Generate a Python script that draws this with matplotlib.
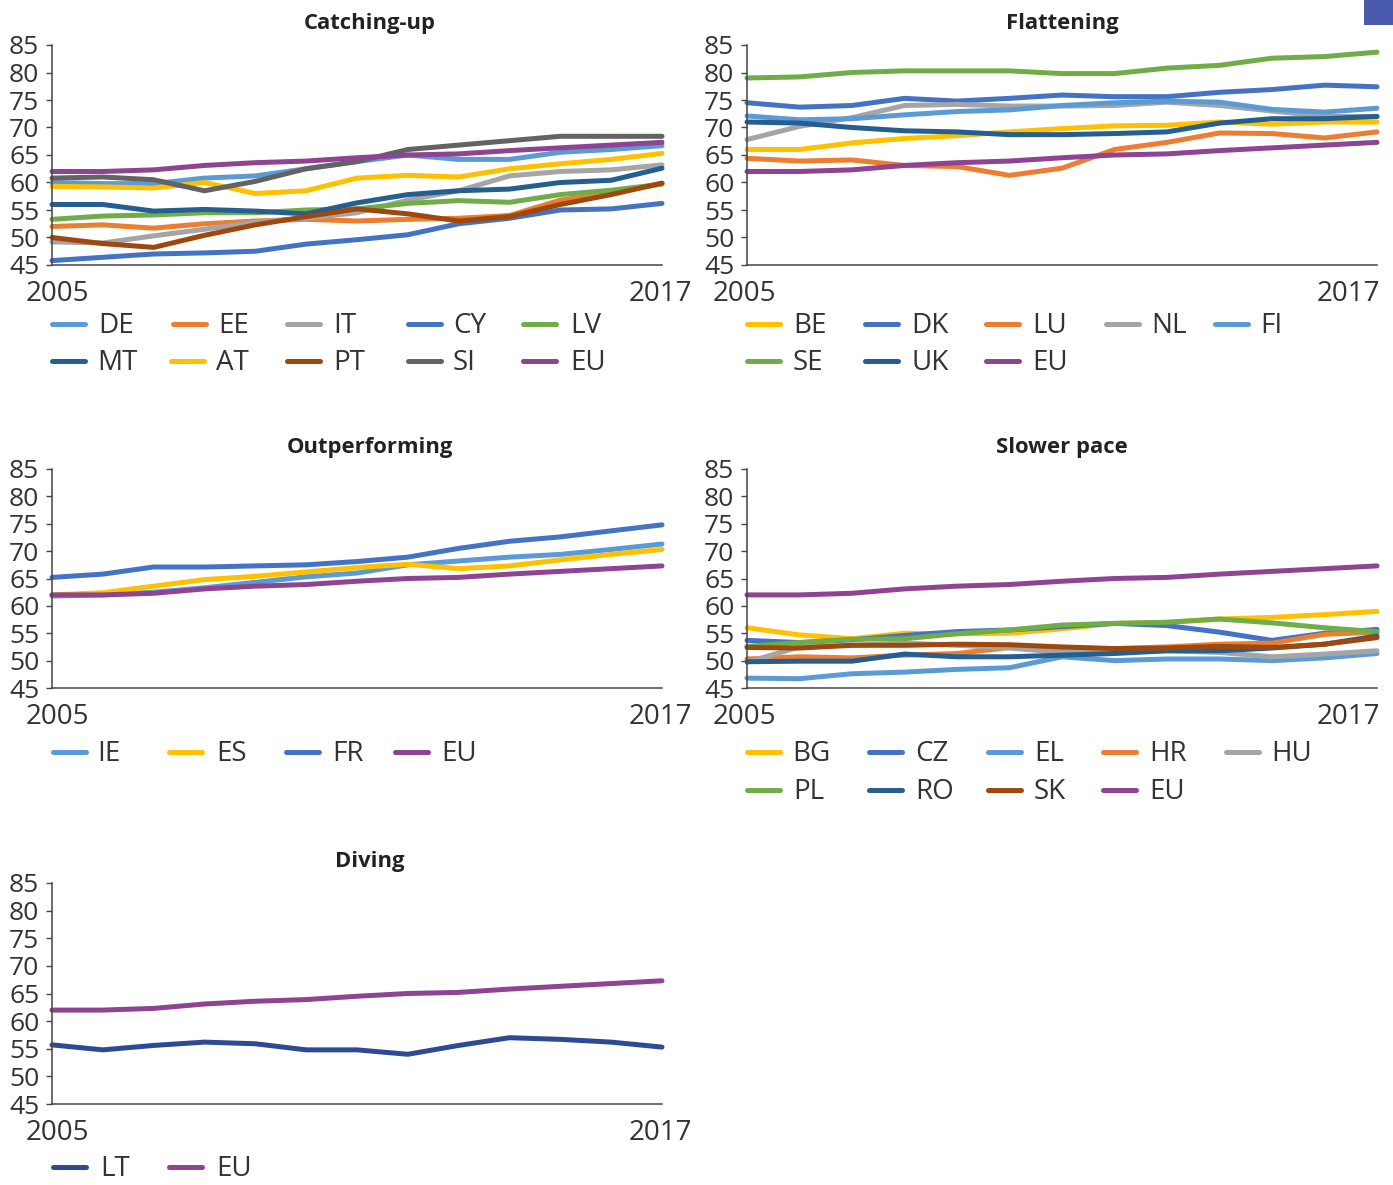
#!/usr/bin/env python3
import matplotlib as mp
mp.use('Agg')
import matplotlib.pyplot as plt
from matplotlib.lines import Line2D
from matplotlib.patches import Rectangle
from matplotlib.transforms import ScaledTranslation

W = 1393
H = 1185

plt.rcParams['font.family'] = ['Open Sans', 'Noto Sans', 'DejaVu Sans']

years = list(range(2005, 2018))
yticks = [45, 50, 55, 60, 65, 70, 75, 80, 85]

EU = [62, 62, 62.3, 63.1, 63.6, 63.9, 64.5, 65, 65.2, 65.8, 66.3, 66.8, 67.3]

# Catching-up
DE = [60, 59.8, 59.8, 60.8, 61.2, 62.5, 63.8, 65, 64.2, 64.2, 65.5, 66, 66.7]
EE = [52, 52.3, 51.7, 52.5, 53, 53.3, 53, 53.3, 53.5, 54, 56.8, 58, 59.8]
IT = [49.2, 49, 50.3, 51.5, 52.8, 53.5, 54.5, 56.8, 58.5, 61.2, 62, 62.3, 63.2]
CY = [45.8, 46.4, 47, 47.2, 47.5, 48.8, 49.6, 50.5, 52.5, 53.5, 55, 55.2, 56.2]
LV = [53.3, 53.9, 54.1, 54.5, 54.5, 55, 55.2, 56.2, 56.7, 56.4, 57.8, 58.6, 59.7]
MT = [56, 56, 54.8, 55.1, 54.8, 54.3, 56.3, 57.8, 58.5, 58.8, 60, 60.4, 62.6]
AT = [59.3, 59.2, 59, 60, 58, 58.5, 60.8, 61.3, 61, 62.5, 63.4, 64.2, 65.3]
PT = [50, 48.9, 48.2, 50.4, 52.3, 53.8, 55.2, 54.3, 53, 53.8, 56, 57.8, 59.9]
SI = [60.8, 61, 60.5, 58.5, 60.2, 62.5, 63.8, 66, 66.8, 67.6, 68.4, 68.4, 68.4]

# Flattening
BE = [66, 66, 67.2, 68, 68.5, 69.2, 69.8, 70.3, 70.4, 71, 70.6, 71, 71]
DK = [74.5, 73.7, 74, 75.3, 74.8, 75.3, 75.9, 75.6, 75.6, 76.4, 76.9, 77.7, 77.4]
LU = [64.4, 63.9, 64.1, 63.1, 62.9, 61.3, 62.6, 66, 67.3, 69, 68.9, 68.1, 69.2]
NL = [67.8, 70.2, 71.8, 74, 74.2, 73.9, 73.9, 74, 74.6, 74, 73, 72, 72]
FI = [72.1, 71.4, 71.6, 72.3, 72.9, 73.2, 74, 74.5, 74.8, 74.6, 73.3, 72.8, 73.5]
SE = [79, 79.2, 80, 80.3, 80.3, 80.3, 79.8, 79.8, 80.8, 81.3, 82.6, 82.9, 83.7]
UK = [71, 70.8, 70, 69.4, 69.2, 68.7, 68.7, 68.9, 69.2, 70.8, 71.6, 71.6, 72]

# Outperforming
IE = [61.8, 62, 62.5, 63.3, 64.3, 65.3, 66, 67.5, 68.2, 68.9, 69.4, 70.3, 71.3]
ES = [62, 62.4, 63.6, 64.8, 65.4, 66.2, 67, 67.6, 66.8, 67.3, 68.4, 69.4, 70.3]
FR = [65.2, 65.8, 67.1, 67.1, 67.3, 67.5, 68.1, 68.9, 70.5, 71.8, 72.6, 73.7, 74.8]

# Slower pace
BG = [56, 54.7, 54, 55, 54.9, 55, 55.8, 56.8, 57, 57.6, 57.9, 58.4, 59]
CZ = [53.7, 53.3, 53.8, 54.6, 55.3, 55.6, 56.2, 56.8, 56.4, 55.2, 53.7, 55, 55.7]
EL = [46.8, 46.7, 47.6, 47.9, 48.4, 48.7, 50.7, 50, 50.3, 50.3, 50, 50.5, 51.3]
HR = [50.3, 50.7, 50.5, 51, 51.3, 52.4, 52.3, 52.2, 52.5, 53, 53.2, 54.8, 55.2]
HU = [49.7, 52.5, 52.8, 53.2, 52.8, 52.3, 51.5, 51.5, 51.8, 51.5, 50.7, 51.2, 51.8]
PL = [52.6, 53.3, 53.9, 54, 54.9, 55.6, 56.5, 56.8, 57, 57.6, 56.9, 56, 55.3]
RO = [49.8, 49.9, 49.9, 51.2, 50.7, 50.7, 51, 51.3, 51.8, 51.8, 52.3, 53, 54.5]
SK = [52.4, 52.3, 52.8, 52.8, 53, 52.9, 52.5, 52.2, 52.3, 52.6, 52.4, 53, 54.2]

# Diving
LT = [55.7, 54.8, 55.6, 56.2, 55.9, 54.8, 54.8, 54, 55.6, 57, 56.7, 56.2, 55.3]

LIGHTBLUE = '#5b9bd5'
ORANGE = '#ed7d31'
GREY = '#a5a5a5'
BLUE = '#4472c4'
GREEN = '#70ad47'
NAVY = '#255e91'
YELLOW = '#ffc000'
BROWN = '#9e480e'
DARKGREY = '#636363'
PURPLE = '#8e4492'
DEEPBLUE = '#2f4a94'

TEXT = '#333333'
LW = 3.6
FS = 20
FS_Y = 19

panels = [
    dict(title='Catching-up', title_x=370, box=(52, 45, 662, 265), xshift=(5, -2),
         series=[('DE', DE, LIGHTBLUE), ('EE', EE, ORANGE), ('IT', IT, GREY), ('CY', CY, BLUE), ('LV', LV, GREEN),
                 ('MT', MT, NAVY), ('AT', AT, YELLOW), ('PT', PT, BROWN), ('SI', SI, DARKGREY), ('EU', EU, PURPLE)],
         cols=[(51, 100), (172, 220), (286, 335), (407, 455), (522, 572)],
         col2=[(51, 99), (170, 218), (286, 335), (407, 455), (522, 572)],
         rows=[324, 361]),
    dict(title='Flattening', title_x=1062, box=(747, 45, 1377, 265), xshift=(-3, -29),
         series=[('BE', BE, YELLOW), ('DK', DK, BLUE), ('LU', LU, ORANGE), ('NL', NL, GREY), ('FI', FI, LIGHTBLUE),
                 ('SE', SE, GREEN), ('UK', UK, NAVY), ('EU', EU, PURPLE)],
         cols=[(746, 795), (864, 913), (985, 1034), (1105, 1153), (1214, 1262)],
         col2=[(746, 795), (864, 914), (985, 1034)],
         rows=[324, 361]),
    dict(title='Outperforming', title_x=370, box=(52, 469, 662, 688), xshift=(5, -2),
         series=[('IE', IE, LIGHTBLUE), ('ES', ES, YELLOW), ('FR', FR, BLUE), ('EU', EU, PURPLE)],
         cols=[(52, 99), (168, 218), (285, 334), (394, 443)],
         col2=[],
         rows=[752]),
    dict(title='Slower pace', title_x=1062, box=(747, 469, 1377, 688), xshift=(-3, -29),
         series=[('BG', BG, YELLOW), ('CZ', CZ, BLUE), ('EL', EL, LIGHTBLUE), ('HR', HR, ORANGE), ('HU', HU, GREY),
                 ('PL', PL, GREEN), ('RO', RO, NAVY), ('SK', SK, BROWN), ('EU', EU, PURPLE)],
         cols=[(746, 794), (868, 917), (987, 1036), (1102, 1151), (1225, 1273)],
         col2=[(746, 795), (868, 917), (987, 1036), (1102, 1151)],
         rows=[752, 790]),
    dict(title='Diving', title_x=370, box=(52, 883, 662, 1104), xshift=(5, -2),
         series=[('LT', LT, DEEPBLUE), ('EU', EU, PURPLE)],
         cols=[(52, 102), (168, 218)],
         col2=[],
         rows=[1167]),
]


def shifted(fig, lab, dx, dy):
    # offset a tick label by some pixels
    lab.set_transform(lab.get_transform() + ScaledTranslation(dx / 100, dy / 100, fig.dpi_scale_trans))


def draw_panel(fig, p):
    x0, y0, x1, y1 = p['box']
    ax = fig.add_axes([x0 / W, 1 - y1 / H, (x1 - x0) / W, (y1 - y0) / H])
    for name, vals, col in p['series']:
        ax.plot(years, vals, color=col, lw=LW, solid_capstyle='round', solid_joinstyle='round', clip_on=False)
    ax.set_xlim(2005, 2017)
    ax.set_ylim(45, 85)
    ax.set_yticks(yticks)
    ax.set_xticks([2005, 2017])
    ax.set_xticklabels(['2005', '2017'])
    ax.tick_params(axis='y', length=4, width=1, color='#444444', labelsize=FS_Y, labelcolor=TEXT, pad=3)
    ax.tick_params(axis='x', length=0, labelsize=FS, labelcolor=TEXT, pad=11)
    for lab in ax.get_yticklabels():
        shifted(fig, lab, -3, 0)
    for lab, dx in zip(ax.get_xticklabels(), p['xshift']):
        shifted(fig, lab, dx, 0)
    ax.spines['top'].set_visible(False)
    ax.spines['right'].set_visible(False)
    for s in ('left', 'bottom'):
        ax.spines[s].set_color('#444444')
        ax.spines[s].set_linewidth(1.1)
    fig.text(p['title_x'] / W, 1 - (y0 - 22) / H, p['title'], ha='center', va='center',
             fontsize=15.8, fontweight='bold', color='#222222')
    # hand placed legend, the columns differ per panel
    slots = [(c, p['rows'][0]) for c in p['cols']]
    if len(p['rows']) > 1:
        slots += [(c, p['rows'][1]) for c in p['col2']]
    for (name, vals, col), ((lx, tx), ry) in zip(p['series'], slots):
        fig.add_artist(Line2D([(lx + 1) / W, (lx + 34) / W], [1 - ry / H, 1 - ry / H], color=col, lw=LW,
                              solid_capstyle='round'))
        fig.text((tx - 2) / W, 1 - (ry + 2) / H, name, ha='left', va='center', fontsize=FS, color=TEXT)


fig = plt.figure(figsize=(W / 100, H / 100), dpi=100)
for p in panels:
    draw_panel(fig, p)

# clipped icon in the top right corner of the screenshot
fig.add_artist(Rectangle((1364 / W, 1 - 25 / H), 29 / W, 25 / H, color='#4a5aad', lw=0))

fig.savefig('out.png', dpi=100)
